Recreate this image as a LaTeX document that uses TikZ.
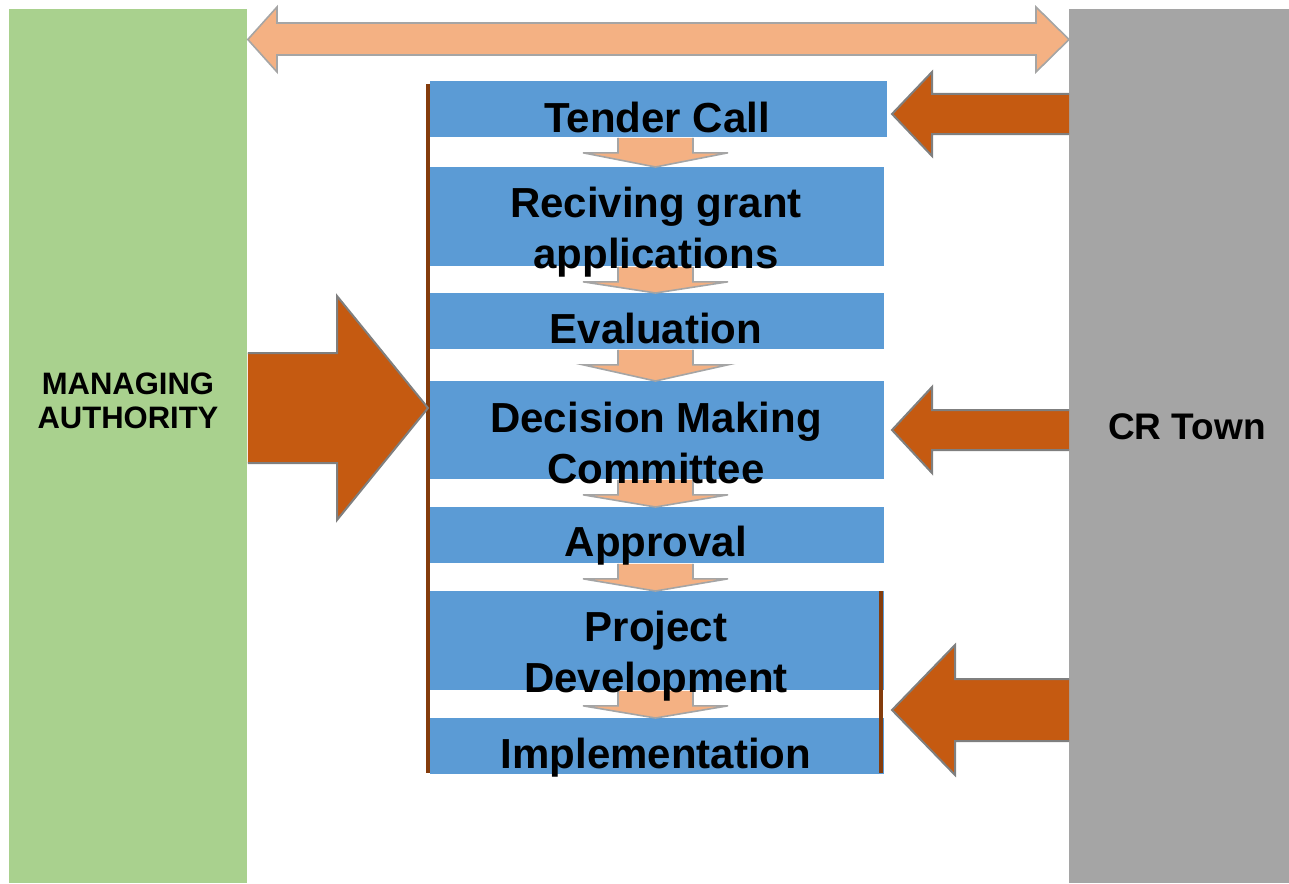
\documentclass[tikz,border=0pt]{standalone}
\usepackage{fontspec}
\setmainfont{Liberation Sans}
\usetikzlibrary{calc}

\definecolor{maGreen}{HTML}{A9D18E}
\definecolor{townGray}{HTML}{A5A5A5}
\definecolor{stepBlue}{HTML}{5B9BD5}
\definecolor{pushOrange}{HTML}{C55A11}
\definecolor{flowPeach}{HTML}{F4B183}
\definecolor{barBrown}{HTML}{843C0C}
\definecolor{edgeGray}{HTML}{7F7F7F}

\begin{document}
\begin{tikzpicture}[x=0.5pt, y=-0.5pt,
	column/.style={inner sep=0pt, minimum height=437pt, anchor=north west},
	stepbox/.style={fill=stepBlue, inner sep=0pt, minimum width=227pt, anchor=north west},
	steptext/.style={anchor=base, align=center, inner sep=0pt, font=\fontsize{21}{25.5}\selectfont\bfseries},
	sidetext/.style={anchor=base, align=center, inner sep=0pt, font=\bfseries},
	flowarrow/.style={fill=flowPeach, draw=townGray, line width=0.8pt, line join=miter},
	pusharrow/.style={fill=pushOrange, draw=edgeGray, line width=1pt, line join=miter},
	bar/.style={draw=barBrown, line width=2pt}]
		\useasboundingbox (0,0) rectangle (1289,883);
		\node[column, fill=maGreen, minimum width=119pt] (ma) at (9,9) {};
		\node[column, fill=townGray, minimum width=110pt] (crt) at (1069,9) {};
		\node[sidetext, font=\fontsize{15.5}{17}\selectfont\bfseries] (matext) at (128,428) {MANAGING\\AUTHORITY};
		\node[sidetext, font=\fontsize{18.5}{21}\selectfont\bfseries] (crttext) at (1187,439) {CR Town};
		\node[stepbox, minimum width=228.5pt, minimum height=28pt] (tc) at (430,81) {};
		\node[stepbox, minimum height=49.5pt] (rga) at (430,167) {};
		\node[stepbox, minimum height=28pt] (ev) at (430,293) {};
		\node[stepbox, minimum height=49pt] (dmc) at (430,381) {};
		\node[stepbox, minimum height=28pt] (ap) at (430,507) {};
		\node[stepbox, minimum height=49.5pt] (pd) at (430,591) {};
		\node[stepbox, minimum height=28pt] (im) at (430,718) {};
		\foreach \a/\b in {tc/rga, rga/ev, ev/dmc, dmc/ap, ap/pd, pd/im}
			\draw[flowarrow] (618,0 |- \a.south) -- ++(0,15) -- ++(-35,0) -- (655.5,0 |- \b.north) -- ($(728,0 |- \a.south)+(0,15)$) -- ++(-35,0) -- (693,0 |- \a.south);
		\node[steptext] (tctext) at (657,133) {Tender Call};
		\node[steptext] (rgatext) at (656,268) {Reciving grant\\applications};
		\node[steptext] (evtext) at (656,343) {Evaluation};
		\node[steptext] (dmctext) at (656,483) {Decision Making\\Committee};
		\node[steptext] (aptext) at (656,556) {Approval};
		\node[steptext] (pdtext) at (656,692) {Project\\Development};
		\node[steptext] (imtext) at (656,768) {Implementation};
		\coordinate (lbtop) at (428,84);
		\coordinate (lbbot) at (428,773);
		\coordinate (rbtop) at (881,591);
		\coordinate (rbbot) at (881,773);
		\draw[bar] (lbtop) -- (lbbot);
		\draw[bar] (rbtop) -- (rbbot);
		\draw[flowarrow] (ma.east |- 0,39.5) -- (277,7) -- (277,23) -- (1036,23) -- (1036,7) -- (crt.west |- 0,39.5) -- (1036,72) -- (1036,55) -- (277,55) -- (277,72) -- cycle;
		\draw[pusharrow] (ma.east |- 0,353) -- (337,353) -- (337,296) -- (lbtop |- 0,408) -- (337,520) -- (337,463) -- (ma.east |- 0,463);
		\foreach \yc/\hw/\sw/\hb in {114/42/20/932, 430/43/20/932, 710/65/31/955}
			\draw[pusharrow] (crt.west |- 0,\yc-\sw) -- (\hb,\yc-\sw) -- (\hb,\yc-\hw) -- (892,\yc) -- (\hb,\yc+\hw) -- (\hb,\yc+\sw) -- (crt.west |- 0,\yc+\sw);
	\end{tikzpicture}
\end{document}
